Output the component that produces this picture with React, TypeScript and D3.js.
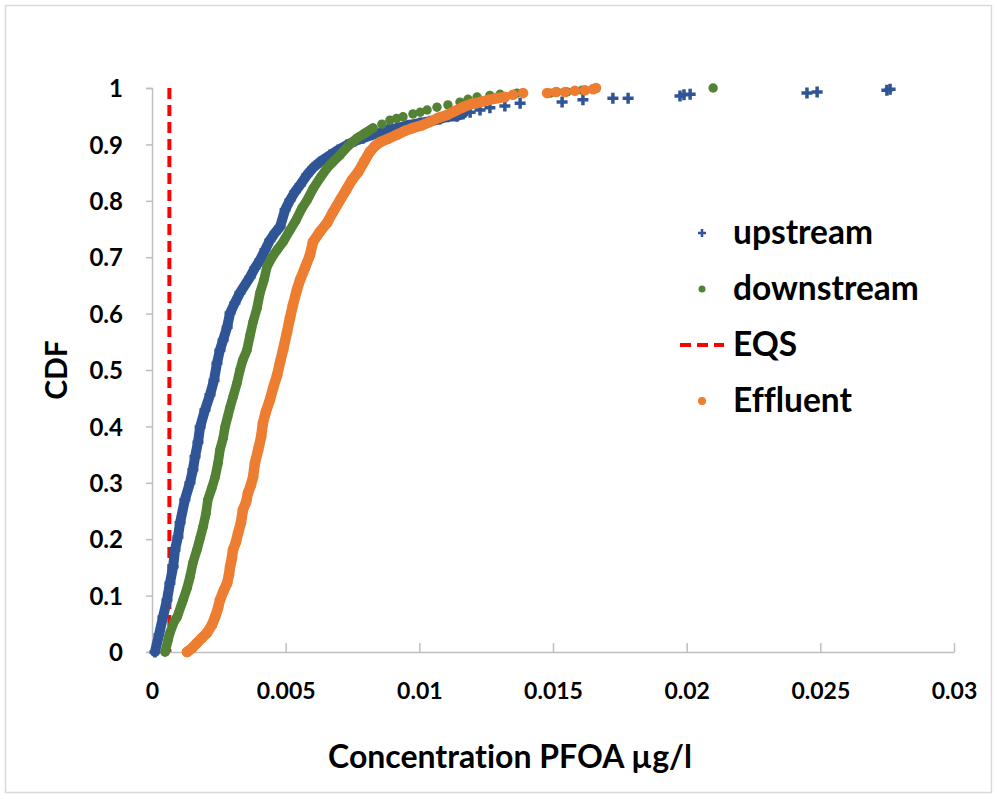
import React, { useRef, useEffect } from 'react';
import * as d3 from 'd3';

// concentration (µg/l), cumulative fraction
const upstream: [number, number][] = [
  [0.00011, 0], [0.00026, 0.030], [0.00041, 0.062], [0.00056, 0.092], [0.00067, 0.122],
  [0.00079, 0.151], [0.00086, 0.181], [0.00097, 0.204], [0.00105, 0.229], [0.00123, 0.270],
  [0.00142, 0.300], [0.00153, 0.323], [0.00161, 0.346], [0.00172, 0.372], [0.00180, 0.399],
  [0.00198, 0.429], [0.00217, 0.456], [0.00232, 0.482], [0.00243, 0.512], [0.00254, 0.535],
  [0.00266, 0.553], [0.00281, 0.576], [0.00292, 0.601], [0.00310, 0.619], [0.00329, 0.637],
  [0.00367, 0.665], [0.00385, 0.681], [0.00404, 0.695], [0.00423, 0.713], [0.00441, 0.730],
  [0.00460, 0.743], [0.00479, 0.754], [0.00498, 0.784], [0.00516, 0.801], [0.00535, 0.816],
  [0.00554, 0.828], [0.00580, 0.846], [0.00602, 0.858], [0.00628, 0.869], [0.00666, 0.881],
  [0.00696, 0.890], [0.00729, 0.899], [0.00759, 0.906], [0.00789, 0.911], [0.00823, 0.917],
  [0.00853, 0.920], [0.00883, 0.926], [0.00916, 0.929], [0.00958, 0.934], [0.01003, 0.938],
  [0.01040, 0.941], [0.01077, 0.945], [0.01107, 0.949], [0.01141, 0.950], [0.01163, 0.954],
  [0.01190, 0.957], [0.01227, 0.961], [0.01264, 0.965], [0.01320, 0.968], [0.01377, 0.973],
  [0.01534, 0.975], [0.01612, 0.979], [0.01724, 0.982], [0.01781, 0.982], [0.01975, 0.986],
  [0.01990, 0.988], [0.02013, 0.989], [0.02450, 0.991], [0.02488, 0.993], [0.02749, 0.996],
  [0.02761, 0.998],
];

const downstream: [number, number][] = [
  [0.00049, 0], [0.00060, 0.021], [0.00067, 0.034], [0.00082, 0.053], [0.00094, 0.062],
  [0.00116, 0.092], [0.00131, 0.113], [0.00142, 0.133], [0.00153, 0.158], [0.00168, 0.181],
  [0.00180, 0.202], [0.00191, 0.222], [0.00202, 0.246], [0.00209, 0.270], [0.00224, 0.291],
  [0.00236, 0.310], [0.00247, 0.335], [0.00254, 0.358], [0.00266, 0.379], [0.00273, 0.399],
  [0.00283, 0.417], [0.00292, 0.434], [0.00303, 0.452], [0.00318, 0.477], [0.00329, 0.500],
  [0.00340, 0.518], [0.00355, 0.535], [0.00367, 0.562], [0.00378, 0.585], [0.00393, 0.610],
  [0.00404, 0.637], [0.00419, 0.660], [0.00430, 0.683], [0.00449, 0.700], [0.00468, 0.713],
  [0.00490, 0.727], [0.00516, 0.748], [0.00539, 0.766], [0.00561, 0.787], [0.00580, 0.801],
  [0.00602, 0.821], [0.00628, 0.840], [0.00655, 0.858], [0.00677, 0.869], [0.00703, 0.881],
  [0.00733, 0.897], [0.00767, 0.911], [0.00797, 0.920], [0.00827, 0.929], [0.00860, 0.936],
  [0.00890, 0.943], [0.00915, 0.946], [0.00939, 0.949], [0.00976, 0.954], [0.01003, 0.957],
  [0.01029, 0.961], [0.01066, 0.966], [0.01107, 0.970], [0.01152, 0.975], [0.01182, 0.980],
  [0.01216, 0.984], [0.01264, 0.987], [0.01302, 0.989], [0.01365, 0.991], [0.01489, 0.991],
  [0.01515, 0.993], [0.01552, 0.993], [0.01609, 0.996], [0.02099, 1.0],
];

const effluent: [number, number][] = [
  [0.00131, 0], [0.00150, 0.007], [0.00168, 0.016], [0.00187, 0.025], [0.00206, 0.034],
  [0.00224, 0.048], [0.00236, 0.062], [0.00247, 0.078], [0.00254, 0.092], [0.00269, 0.110],
  [0.00281, 0.122], [0.00288, 0.137], [0.00292, 0.151], [0.00299, 0.167], [0.00303, 0.181],
  [0.00314, 0.195], [0.00322, 0.211], [0.00333, 0.230], [0.00340, 0.252], [0.00352, 0.266],
  [0.00359, 0.282], [0.00370, 0.296], [0.00378, 0.310], [0.00385, 0.335], [0.00397, 0.358],
  [0.00408, 0.381], [0.00415, 0.406], [0.00426, 0.426], [0.00441, 0.447], [0.00453, 0.468],
  [0.00468, 0.491], [0.00479, 0.514], [0.00490, 0.535], [0.00505, 0.567], [0.00516, 0.592],
  [0.00527, 0.615], [0.00542, 0.642], [0.00554, 0.660], [0.00572, 0.681], [0.00591, 0.704],
  [0.00602, 0.727], [0.00628, 0.745], [0.00655, 0.761], [0.00677, 0.780], [0.00703, 0.801],
  [0.00726, 0.819], [0.00748, 0.837], [0.00771, 0.851], [0.00793, 0.869], [0.00815, 0.887],
  [0.00834, 0.897], [0.00853, 0.904], [0.00883, 0.910], [0.00916, 0.917], [0.00946, 0.924],
  [0.00976, 0.929], [0.01010, 0.934], [0.01040, 0.940], [0.01070, 0.947], [0.01103, 0.952],
  [0.01133, 0.959], [0.01163, 0.966], [0.01197, 0.972], [0.01227, 0.975], [0.01261, 0.979],
  [0.01291, 0.982], [0.01320, 0.984], [0.01350, 0.988], [0.01388, 0.991], [0.01478, 0.991],
  [0.01511, 0.993], [0.01545, 0.993], [0.01582, 0.995], [0.01620, 0.996], [0.01650, 0.998],
  [0.01661, 1.0],
];

const eqs = 0.00065;

const xTicks = [0, 0.005, 0.01, 0.015, 0.02, 0.025, 0.03];
const xTickLabels = ['0', '0.005', '0.01', '0.015', '0.02', '0.025', '0.03'];
const yTicks = [0, 0.1, 0.2, 0.3, 0.4, 0.5, 0.6, 0.7, 0.8, 0.9, 1];
const yTickLabels = ['0', '0.1', '0.2', '0.3', '0.4', '0.5', '0.6', '0.7', '0.8', '0.9', '1'];

const legendNames = ['upstream', 'downstream', 'EQS', 'Effluent'];

const FONT = 'Lato, "Open Sans", sans-serif';
const BLUE = '#2f5597';
const GREEN = '#548235';
const ORANGE = '#ed7d31';
const RED = '#ff0000';
const AXIS = '#bfbfbf';

type Pt = [number, number];

export default function App() {
  const ref = useRef<SVGSVGElement | null>(null);

  useEffect(() => {
    document.body.style.margin = '0';
    const svg = d3.select(ref.current);
    svg.selectAll('*').remove();

    const x = d3.scaleLinear().domain([0, 0.03]).range([152, 954]);
    const y = d3.scaleLinear().domain([0, 1]).range([652, 88]);

    const txt = (sel: any, size: number) => sel
      .attr('font-family', FONT).attr('font-weight', 700).attr('font-size', size)
      .attr('fill', '#000').style('font-variant-ligatures', 'none');

    svg.append('rect')
      .attr('x', 5.5).attr('y', 5.5).attr('width', 986).attr('height', 787)
      .attr('fill', 'white').attr('stroke', '#d9d9d9').attr('stroke-width', 1.5);

    // y axis
    const yAxis = svg.append('g')
      .attr('transform', 'translate(152,0)')
      .call(d3.axisLeft(y).tickValues(yTicks).tickSizeInner(6).tickSizeOuter(6)
        .tickFormat((_d, i) => yTickLabels[i]));
    yAxis.select('.domain').attr('stroke', AXIS).attr('stroke-width', 1.5);
    yAxis.selectAll('.tick line').attr('stroke', AXIS).attr('stroke-width', 1.5);
    txt(yAxis.selectAll('.tick text').attr('x', -29).attr('dy', '0.36em'), 24);

    // x axis
    const xAxis = svg.append('g')
      .attr('transform', 'translate(0,652)')
      .call(d3.axisBottom(x).tickValues(xTicks).tickSizeInner(-9).tickSizeOuter(0)
        .tickFormat((_d, i) => xTickLabels[i]));
    xAxis.select('.domain').attr('stroke', AXIS).attr('stroke-width', 1.5);
    xAxis.selectAll('.tick line').attr('stroke', AXIS).attr('stroke-width', 1.5);
    txt(xAxis.selectAll('.tick text').attr('y', 47).attr('dy', 0), 23);

    // EQS line
    svg.append('line')
      .attr('x1', x(eqs)).attr('x2', x(eqs)).attr('y1', y(1)).attr('y2', y(0))
      .attr('stroke', RED).attr('stroke-width', 4).attr('stroke-dasharray', '11,6');

    const crossPath = (s: number) => `M${-s},0H${s}M0,${-s}V${s}`;

    // dense stretches of the cumulative curve show as a solid band of markers
    const drawBand = (data: Pt[], color: string, width: number, maxCdf: number) => {
      const runs: Pt[][] = [];
      let cur: Pt[] = [];
      data.forEach(d => {
        if (d[1] <= maxCdf) cur.push([x(d[0]), y(d[1])]);
        else if (cur.length) { runs.push(cur); cur = []; }
      });
      if (cur.length) runs.push(cur);
      const line = d3.line();
      svg.append('g').selectAll('path').data(runs.filter(r => r.length > 1)).join('path')
        .attr('d', r => line(r))
        .attr('fill', 'none').attr('stroke', color).attr('stroke-width', width)
        .attr('stroke-linecap', 'round').attr('stroke-linejoin', 'round');
    };

    drawBand(upstream, BLUE, 10, 0.955);
    svg.append('g').selectAll('path').data(upstream).join('path')
      .attr('d', crossPath(5.5))
      .attr('transform', d => `translate(${x(d[0])},${y(d[1])})`)
      .attr('stroke', BLUE).attr('stroke-width', 3.5).attr('fill', 'none');

    drawBand(downstream, GREEN, 9.5, 0.935);
    svg.append('g').selectAll('circle').data(downstream).join('circle')
      .attr('cx', d => x(d[0])).attr('cy', d => y(d[1])).attr('r', 4.7).attr('fill', GREEN);

    drawBand(effluent, ORANGE, 10.5, 0.985);
    svg.append('g').selectAll('circle').data(effluent).join('circle')
      .attr('cx', d => x(d[0])).attr('cy', d => y(d[1])).attr('r', 5.3).attr('fill', ORANGE);

    // legend
    const legend = svg.append('g');
    const rowY = (i: number) => 233 + i * 56;
    legend.append('path').attr('d', crossPath(4)).attr('transform', `translate(702,${rowY(0)})`)
      .attr('stroke', BLUE).attr('stroke-width', 2.5).attr('fill', 'none');
    legend.append('circle').attr('cx', 702).attr('cy', rowY(1)).attr('r', 3.5).attr('fill', GREEN);
    legend.append('line').attr('x1', 680).attr('x2', 724).attr('y1', rowY(2)).attr('y2', rowY(2))
      .attr('stroke', RED).attr('stroke-width', 4).attr('stroke-dasharray', '11,6');
    legend.append('circle').attr('cx', 702).attr('cy', rowY(3)).attr('r', 4).attr('fill', ORANGE);
    txt(legend.selectAll('text').data(legendNames).join('text')
      .attr('x', 733).attr('y', (_d, i) => rowY(i) + 11)
      .text(d => d), 33.5);

    // axis titles
    txt(svg.append('text')
      .attr('x', 510).attr('y', 768).attr('text-anchor', 'middle')
      .text('Concentration PFOA µg/l'), 32);
    txt(svg.append('text')
      .attr('transform', 'translate(67,370) rotate(-90)').attr('text-anchor', 'middle')
      .text('CDF'), 30);
  }, []);

  return <svg ref={ref} width={997} height={799} style={{ display: 'block' }} />;
}
